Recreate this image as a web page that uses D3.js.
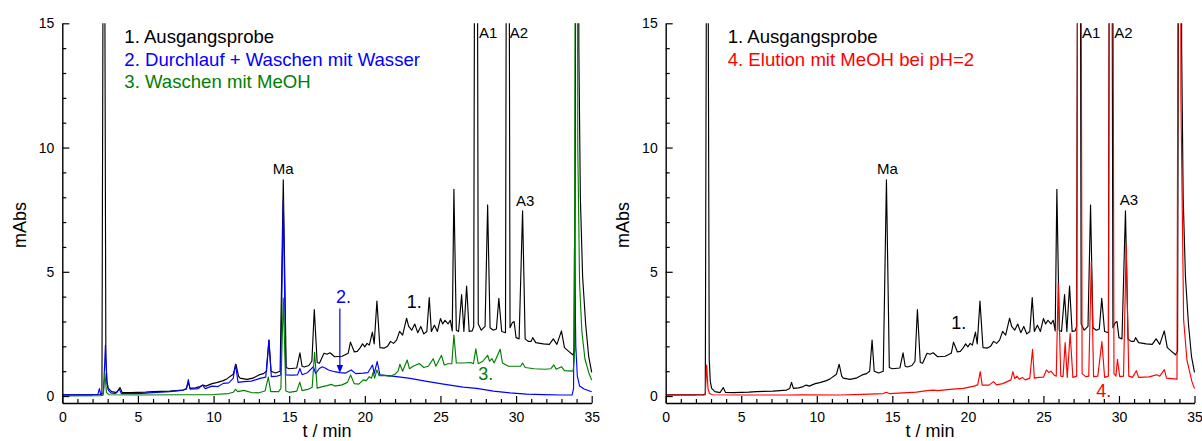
<!DOCTYPE html>
<html>
<head>
<meta charset="utf-8">
<script src="https://cdn.jsdelivr.net/npm/d3@7"></script>
<style>
  body { margin: 0; background: #fff; }
  svg text { font-family: Arial, "Liberation Sans", sans-serif; }
</style>
</head>
<body>
<svg id="chart" width="1202" height="441"></svg>
<script>
// Chromatogram traces as [t / min, absorbance / mAbs]
const trace1 = [ // 1. Ausgangsprobe
  [0, 0.05], [1.0, 0.05], [2.0, 0.05], [2.5, 0.06], [2.62, 0.08], [2.75, 30], [2.88, 1.5], [2.95, 0.6],
  [3.04, 0.31], [3.26, 0.18], [3.6, 0.14], [3.81, 0.34], [3.95, 0.15], [4.5, 0.14], [5.5, 0.16], [6.0, 0.18],
  [7.1, 0.2], [8.0, 0.24], [8.2, 0.3], [8.33, 0.55], [8.45, 0.31], [8.8, 0.33], [9.1, 0.38], [9.3, 0.44],
  [9.5, 0.4], [9.9, 0.5], [10.2, 0.54], [10.64, 0.62], [10.9, 0.7], [11.3, 0.88], [11.48, 1.28], [11.65, 0.8],
  [11.75, 0.72], [12.2, 0.67], [12.6, 0.72], [13.0, 0.85], [13.3, 0.9], [13.5, 1.0], [13.66, 2.25], [13.8, 1.0],
  [14.1, 0.93], [14.4, 1.0], [14.61, 8.7], [14.8, 1.15], [15.0, 1.1], [15.5, 1.13], [15.71, 1.74], [15.85, 1.2],
  [16.0, 1.17], [16.3, 1.23], [16.5, 1.4], [16.66, 3.48], [16.85, 1.35], [17.0, 1.32], [17.3, 1.72], [17.5, 1.68],
  [17.7, 1.74], [18.0, 1.58], [18.5, 1.6], [18.9, 1.72], [19.05, 2.17], [19.3, 1.78], [19.5, 1.8], [19.7, 1.95],
  [19.85, 2.1], [20.0, 1.98], [20.15, 2.12], [20.3, 2.05], [20.5, 2.57], [20.62, 2.1], [20.8, 3.82], [21.0, 1.95],
  [21.3, 1.93], [21.5, 2.0], [21.7, 2.2], [21.9, 2.12], [22.1, 2.25], [22.3, 2.6], [22.5, 2.45], [22.76, 3.13],
  [22.9, 2.8], [23.1, 2.65], [23.3, 2.9], [23.5, 2.55], [23.7, 2.8], [23.9, 2.5], [24.1, 2.6], [24.26, 3.96],
  [24.4, 2.6], [24.6, 2.85], [24.8, 2.6], [25.0, 3.12], [25.15, 2.9], [25.3, 3.05], [25.5, 2.9], [25.65, 3.05],
  [25.78, 2.62], [25.89, 8.32], [26.05, 2.65], [26.2, 2.6], [26.4, 4.08], [26.55, 2.6], [26.73, 4.43], [26.9, 2.6],
  [27.1, 2.62], [27.2, 2.8], [27.35, 45], [27.5, 2.9], [27.7, 2.65], [27.95, 2.8], [28.12, 7.69], [28.28, 2.75],
  [28.5, 2.65], [28.7, 2.7], [28.86, 3.93], [29.05, 2.6], [29.3, 2.55], [29.45, 45], [29.6, 2.75], [29.75, 2.95],
  [29.87, 3.0], [30.0, 2.35], [30.2, 2.3], [30.43, 7.45], [30.6, 2.3], [30.8, 2.2], [31.0, 2.2], [31.1, 2.35],
  [31.3, 2.15], [31.8, 2.1], [32.2, 2.08], [32.46, 2.3], [32.7, 2.08], [33.0, 2.62], [33.2, 1.95], [33.5, 1.79],
  [33.75, 1.66], [33.88, 1.8], [33.95, 20], [34.05, 60], [34.15, 14], [34.25, 8.0], [34.4, 4.8], [34.6, 2.9],
  [34.8, 1.6], [35.0, 0.95]
];

const trace2 = [ // 2. Durchlauf + Waschen mit Wasser
  [0, 0.05], [2.0, 0.05], [2.35, 0.06], [2.45, 0.3], [2.55, 0.06], [2.72, 0.1], [2.85, 2.05], [2.95, 0.5],
  [3.04, 0.24], [3.2, 0.13], [3.5, 0.1], [3.77, 0.28], [3.9, 0.1], [5.0, 0.1], [6.0, 0.14], [7.1, 0.18],
  [8.0, 0.24], [8.2, 0.28], [8.33, 0.66], [8.45, 0.28], [9.0, 0.3], [9.27, 0.44], [9.45, 0.3], [9.9, 0.4],
  [10.3, 0.38], [10.64, 0.51], [11.0, 0.53], [11.3, 0.71], [11.45, 1.28], [11.62, 0.55], [12.0, 0.58], [12.5, 0.6],
  [13.07, 0.71], [13.45, 0.76], [13.66, 2.25], [13.82, 0.78], [14.2, 0.8], [14.44, 0.85], [14.61, 7.92], [14.78, 0.85],
  [15.2, 0.84], [15.55, 0.85], [15.71, 1.11], [15.85, 0.86], [16.2, 0.94], [16.6, 1.18], [16.75, 0.9], [16.99, 1.11],
  [17.2, 1.18], [17.4, 1.12], [17.6, 1.05], [18.0, 0.98], [18.36, 0.94], [18.7, 0.92], [19.1, 1.05], [19.4, 0.9],
  [19.9, 0.92], [20.2, 0.94], [20.51, 1.25], [20.62, 0.9], [20.82, 1.39], [21.0, 0.85], [21.5, 0.82], [22.1, 0.78],
  [23.0, 0.71], [24.0, 0.6], [25.2, 0.48], [26.5, 0.36], [27.4, 0.31], [28.5, 0.2], [29.6, 0.13], [30.7, 0.08],
  [31.8, 0.06], [33.0, 0.04], [33.7, 0.04], [33.8, 0.3], [33.86, 5.97], [33.95, 2.0], [34.05, 0.8], [34.2, 0.4],
  [34.5, 0.28], [35.0, 0.17]
];

const trace3 = [ // 3. Waschen mit MeOH
  [0, 0.0], [2.5, 0.01], [2.7, 0.03], [2.82, 0.91], [2.92, 0.15], [3.1, 0.05], [5.0, 0.04], [8.0, 0.05],
  [10.0, 0.06], [11.0, 0.1], [11.3, 0.15], [11.45, 0.27], [11.6, 0.18], [12.0, 0.23], [12.5, 0.14], [13.0, 0.13],
  [13.4, 0.2], [13.62, 0.76], [13.78, 0.18], [14.3, 0.18], [14.45, 0.3], [14.61, 3.94], [14.78, 0.2], [15.0, 0.15],
  [15.5, 0.2], [15.7, 0.56], [15.85, 0.22], [16.3, 0.28], [16.52, 0.35], [16.68, 1.76], [16.85, 0.32], [17.2, 0.38],
  [17.5, 0.42], [17.8, 0.47], [18.0, 0.4], [18.5, 0.45], [18.85, 0.55], [19.06, 0.85], [19.3, 0.5], [19.6, 0.48],
  [19.9, 0.65], [20.1, 0.62], [20.3, 0.78], [20.45, 0.72], [20.55, 0.95], [20.65, 0.72], [20.8, 1.05], [20.95, 0.82],
  [21.2, 0.83], [21.66, 0.8], [22.0, 0.88], [22.2, 1.0], [22.32, 1.28], [22.5, 1.0], [22.8, 1.45], [22.95, 1.1],
  [23.2, 1.2], [23.6, 1.31], [23.9, 1.15], [24.2, 1.2], [24.52, 1.5], [24.7, 1.2], [25.07, 1.64], [25.25, 1.25],
  [25.5, 1.3], [25.75, 1.3], [25.89, 2.45], [26.05, 1.33], [26.5, 1.33], [27.0, 1.35], [27.18, 1.3], [27.34, 1.9],
  [27.5, 1.3], [27.8, 1.4], [28.12, 1.64], [28.25, 1.4], [28.4, 1.51], [28.55, 1.33], [28.95, 1.88], [29.1, 1.33],
  [29.5, 1.2], [30.0, 1.2], [30.3, 1.2], [30.43, 1.33], [30.6, 1.15], [31.2, 1.1], [31.9, 1.08], [32.3, 1.1],
  [32.5, 1.25], [32.65, 1.08], [33.0, 1.18], [33.2, 1.02], [33.77, 1.0], [33.85, 1.5], [33.92, 20], [34.0, 50],
  [34.08, 10], [34.2, 4.5], [34.35, 2.6], [34.55, 1.5], [34.8, 0.95], [35.0, 0.64]
];

const trace4 = [ // 4. Elution mit MeOH bei pH=2
  [0, 0.04], [2.5, 0.04], [2.62, 0.05], [2.71, 1.25], [2.8, 0.3], [2.9, 0.1], [3.1, 0.05], [5.0, 0.04],
  [8.0, 0.04], [9.0, 0.05], [11.5, 0.04], [13.0, 0.07], [14.4, 0.1], [14.6, 0.15], [14.8, 0.1], [16.6, 0.16],
  [17.3, 0.22], [17.7, 0.24], [18.0, 0.22], [18.5, 0.25], [19.0, 0.28], [19.7, 0.31], [20.4, 0.4], [20.65, 0.45],
  [20.82, 0.98], [20.95, 0.44], [21.4, 0.44], [21.7, 0.58], [21.9, 0.45], [22.3, 0.5], [22.6, 0.58], [22.85, 0.65],
  [22.98, 0.98], [23.1, 0.7], [23.25, 0.8], [23.4, 0.68], [23.6, 0.75], [23.8, 0.65], [24.1, 0.72], [24.28, 1.88],
  [24.4, 0.72], [24.7, 0.75], [25.0, 0.76], [25.2, 1.05], [25.35, 0.95], [25.5, 1.0], [25.7, 0.85], [25.85, 0.8],
  [25.98, 4.54], [26.15, 0.8], [26.3, 0.78], [26.44, 2.15], [26.58, 0.75], [26.77, 2.52], [26.95, 0.75], [27.2, 0.8],
  [27.38, 50], [27.56, 0.9], [27.8, 0.78], [28.0, 0.8], [28.17, 5.41], [28.32, 0.78], [28.6, 0.8], [28.87, 2.19],
  [29.05, 0.75], [29.3, 0.8], [29.49, 50], [29.67, 0.9], [29.8, 0.8], [29.9, 1.48], [30.05, 0.78], [30.3, 0.8],
  [30.48, 6.08], [30.65, 0.8], [30.9, 0.75], [31.15, 1.02], [31.3, 0.75], [32.0, 0.77], [32.3, 0.82], [32.5, 0.86],
  [32.7, 0.8], [33.0, 1.06], [33.15, 0.72], [33.5, 0.7], [33.84, 0.68], [33.92, 20], [34.0, 60], [34.1, 12],
  [34.28, 3.07], [34.5, 1.45], [34.83, 0.58], [35.0, 0.3]
];

const xMajorTicks = [0, 5, 10, 15, 20, 25, 30, 35];
const yMajorTicks = [0, 5, 10, 15];
const xAxisTitle = "t / min";
const yAxisTitle = "mAbs";

const legendLeft = [
  { text: "1. Ausgangsprobe", color: "#000000" },
  { text: "2. Durchlauf + Waschen mit Wasser", color: "#0000ff" },
  { text: "3. Waschen mit MeOH", color: "#008000" }
];
const legendRight = [
  { text: "1. Ausgangsprobe", color: "#000000" },
  { text: "4. Elution mit MeOH bei pH=2", color: "#ff0000" }
];

// Peak names: retention time and height of the labelled peak
const peakLabelsLeft = [
  { text: "Ma", t: 14.61, v: 8.7, anchor: "middle", dx: 0, dy: -6 },
  { text: "A1", t: 27.35, v: 15, anchor: "start", dx: 3, dy: 14.4 },
  { text: "A2", t: 29.45, v: 15, anchor: "start", dx: 2, dy: 14.4 },
  { text: "A3", t: 30.43, v: 7.45, anchor: "middle", dx: 2.5, dy: -5 }
];
const peakLabelsRight = [
  { text: "Ma", t: 14.61, v: 8.7, anchor: "middle", dx: 1, dy: -6 },
  { text: "A1", t: 27.38, v: 15, anchor: "start", dx: 2.6, dy: 14.4 },
  { text: "A2", t: 29.49, v: 15, anchor: "start", dx: 3, dy: 14.4 },
  { text: "A3", t: 30.48, v: 6.08, anchor: "middle", dx: 2.6, dy: -40 }
];

const svg = d3.select("#chart");
svg.append("rect").attr("width", 1202).attr("height", 441).attr("fill", "#fff");

const yDomain = [-0.28, 15];
const plotTop = 23.3, plotBottom = 403;

function drawPanel(cfg) {
  const x = d3.scaleLinear().domain([0, 35]).range([cfg.left, cfg.right]);
  const y = d3.scaleLinear().domain(yDomain).range([plotBottom, plotTop]);
  const g = svg.append("g");

  const clipId = "clip-" + cfg.id;
  svg.append("clipPath").attr("id", clipId)
    .append("rect").attr("x", cfg.left).attr("y", plotTop)
    .attr("width", cfg.right - cfg.left + 2).attr("height", plotBottom - plotTop);

  const line = d3.line().x(d => x(d[0])).y(d => y(d[1]));
  const plot = g.append("g").attr("clip-path", `url(#${clipId})`);
  cfg.traces.forEach(tr => {
    plot.append("path").datum(tr.data)
      .attr("d", line)
      .attr("fill", "none")
      .attr("stroke", tr.color)
      .attr("stroke-width", 1.15)
      .attr("stroke-linejoin", "round");
  });

  // x axis: major ticks with labels, minor ticks every minute
  const xMinor = d3.range(0, 36, 1).filter(v => !xMajorTicks.includes(v));
  const gx = g.append("g").attr("transform", `translate(0,${plotBottom})`);
  gx.call(d3.axisBottom(x).tickValues(xMajorTicks).tickSize(-7).tickSizeOuter(0).tickPadding(9)
    .tickFormat(d3.format("d")));
  gx.append("g").call(d3.axisBottom(x).tickValues(xMinor).tickSize(-4).tickFormat(""))
    .select(".domain").remove();

  const yMinor = d3.range(0, 16, 1).filter(v => !yMajorTicks.includes(v));
  const gy = g.append("g").attr("transform", `translate(${cfg.left},0)`);
  gy.call(d3.axisLeft(y).tickValues(yMajorTicks).tickSize(-7).tickSizeOuter(0).tickPadding(8)
    .tickFormat(d3.format("d")));
  gy.append("g").call(d3.axisLeft(y).tickValues(yMinor).tickSize(-4).tickFormat(""))
    .select(".domain").remove();

  g.selectAll(".domain").attr("stroke", "#000").attr("stroke-width", 1.4);
  g.selectAll(".tick line").attr("stroke", "#000").attr("stroke-width", 1.2);
  g.selectAll(".tick text").attr("font-size", 14).attr("fill", "#000")
    .attr("font-family", "Arial, 'Liberation Sans', sans-serif");

  // axis titles
  g.append("text").attr("x", (cfg.left + cfg.right) / 2).attr("y", 436.5)
    .attr("text-anchor", "middle").attr("font-size", 18).text(xAxisTitle);
  g.append("text").attr("transform", `translate(${cfg.left - 36.5},225) rotate(-90)`)
    .attr("text-anchor", "middle").attr("font-size", 18).text(yAxisTitle);

  // legend
  g.selectAll(".legend").data(cfg.legend).enter().append("text")
    .attr("x", cfg.left + 62).attr("y", (d, i) => 43 + i * 22.6)
    .attr("font-size", 18.6).attr("fill", d => d.color).text(d => d.text);

  // peak names
  cfg.peaks.forEach(p => {
    g.append("text").attr("x", x(p.t) + p.dx).attr("y", y(p.v) + p.dy)
      .attr("text-anchor", p.anchor).attr("font-size", 15).attr("fill", "#000").text(p.text);
  });

  // trace numbers
  cfg.marks.forEach(m => {
    g.append("text").attr("x", x(m.t)).attr("y", y(m.v))
      .attr("font-size", 18).attr("fill", m.color).text(m.text);
  });

  return { x, y, g };
}

const left = drawPanel({
  id: "a", left: 62.3, right: 591.7,
  traces: [
    { data: trace1, color: "#000000" },
    { data: trace2, color: "#0000ff" },
    { data: trace3, color: "#008000" }
  ],
  legend: legendLeft,
  peaks: peakLabelsLeft,
  marks: [
    { text: "1.", t: 22.77, v: 3.53, color: "#000000" },
    { text: "2.", t: 18.1, v: 3.75, color: "#0000ff" },
    { text: "3.", t: 27.5, v: 0.65, color: "#008000" }
  ]
});

// arrow from the "2." label down to trace 2
{
  const { x, y, g } = left;
  const ax = x(18.35), y0 = y(3.52), y1 = y(0.93);
  g.append("line").attr("x1", ax).attr("x2", ax).attr("y1", y0).attr("y2", y1 - 6)
    .attr("stroke", "#0000ff").attr("stroke-width", 1.2);
  g.append("path")
    .attr("d", `M${ax - 3.2},${y1 - 8} L${ax + 3.2},${y1 - 8} L${ax},${y1} Z`)
    .attr("fill", "#0000ff");
}

drawPanel({
  id: "b", left: 665.7, right: 1194.5,
  traces: [
    { data: trace1, color: "#000000" },
    { data: trace4, color: "#ff0000" }
  ],
  legend: legendRight,
  peaks: peakLabelsRight,
  marks: [
    { text: "1.", t: 18.9, v: 2.69, color: "#000000" },
    { text: "4.", t: 28.5, v: -0.03, color: "#ff0000" }
  ]
});
</script>
</body>
</html>
